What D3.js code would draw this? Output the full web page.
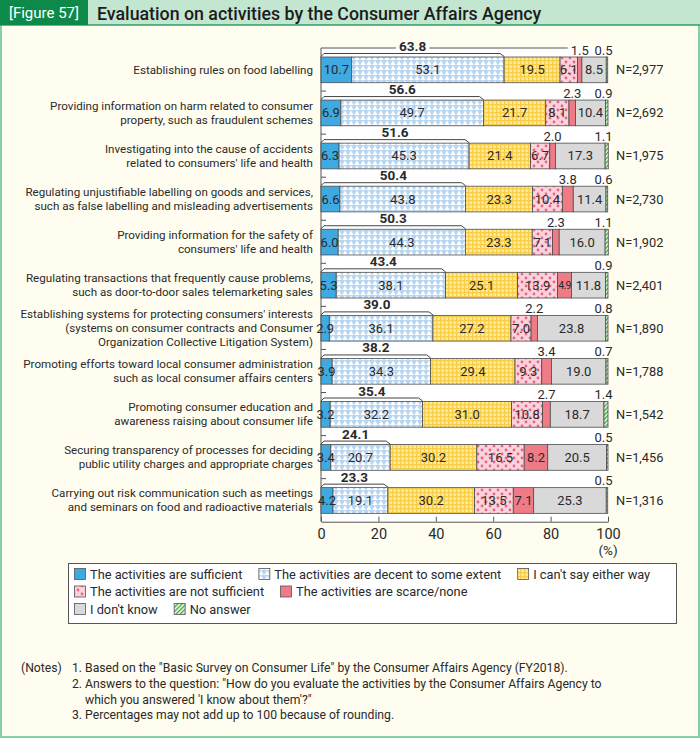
<!DOCTYPE html>
<html><head><meta charset="utf-8">
<script src="https://cdn.jsdelivr.net/npm/d3@7"></script>
<style>
html,body{margin:0;padding:0;background:#fff;}
svg{display:block;}
text{font-family:Roboto,"Noto Sans",sans-serif;fill:#2a2a2a;}
.num{font-family:Roboto,sans-serif;}
</style></head><body>
<svg id="c" width="700" height="738"></svg>
<script>
// ---------------- data ----------------
const categories = [
  ["Establishing rules on food labelling"],
  ["Providing information on harm related to consumer", "property, such as fraudulent schemes"],
  ["Investigating into the cause of accidents", "related to consumers' life and health"],
  ["Regulating unjustifiable labelling on goods and services,", "such as false labelling and misleading advertisements"],
  ["Providing information for the safety of", "consumers' life and health"],
  ["Regulating transactions that frequently cause problems,", "such as door-to-door sales telemarketing sales"],
  ["Establishing systems for protecting consumers' interests", "(systems on consumer contracts and Consumer", "Organization Collective Litigation System)"],
  ["Promoting efforts toward local consumer administration", "such as local consumer affairs centers"],
  ["Promoting consumer education and", "awareness raising about consumer life"],
  ["Securing transparency of processes for deciding", "public utility charges and appropriate charges"],
  ["Carrying out risk communication such as meetings", "and seminars on food and radioactive materials"]
];
const seriesNames = [
  "The activities are sufficient",
  "The activities are decent to some extent",
  "I can't say either way",
  "The activities are not sufficient",
  "The activities are scarce/none",
  "I don't know",
  "No answer"
];
const sufficient    = [10.7, 6.9, 6.3, 6.6, 6.0, 5.3, 2.9, 3.9, 3.2, 3.4, 4.2];
const decent        = [53.1, 49.7, 45.3, 43.8, 44.3, 38.1, 36.1, 34.3, 32.2, 20.7, 19.1];
const cantSay       = [19.5, 21.7, 21.4, 23.3, 23.3, 25.1, 27.2, 29.4, 31.0, 30.2, 30.2];
const notSufficient = [6.1, 8.1, 6.7, 10.4, 7.1, 13.9, 7.0, 9.3, 10.8, 16.5, 13.5];
const scarce        = [1.5, 2.3, 2.0, 3.8, 2.3, 4.9, 2.2, 3.4, 2.7, 8.2, 7.1];
const dontKnow      = [8.5, 10.4, 17.3, 11.4, 16.0, 11.8, 23.8, 19.0, 18.7, 20.5, 25.3];
const noAnswer      = [0.5, 0.9, 1.1, 0.6, 1.1, 0.9, 0.8, 0.7, 1.4, 0.5, 0.5];
const positiveTotal = [63.8, 56.6, 51.6, 50.4, 50.3, 43.4, 39.0, 38.2, 35.4, 24.1, 23.3];
const sampleN       = [2977, 2692, 1975, 2730, 1902, 2401, 1890, 1788, 1542, 1456, 1316];
const xTicks        = [0, 20, 40, 60, 80, 100];
const notes = [
  "1. Based on the \"Basic Survey on Consumer Life\" by the Consumer Affairs Agency (FY2018).",
  "2. Answers to the question: \"How do you evaluate the activities by the Consumer Affairs Agency to",
  "   which you answered 'I know about them'?\"",
  "3. Percentages may not add up to 100 because of rounding."
];

// ---------------- setup ----------------
const svg = d3.select("#c");
const W = 700, H = 738;
const cream = "#fffdef";
const keys = ["s0","s1","s2","s3","s4","s5","s6"];
const seriesValues = [sufficient, decent, cantSay, notSufficient, scarce, dontKnow, noAnswer];
const rows = categories.map((c, i) => {
  const o = {i};
  keys.forEach((k, j) => o[k] = seriesValues[j][i]);
  return o;
});
const stacked = d3.stack().keys(keys)(rows);

// patterns
const defs = svg.append("defs");
let p = defs.append("pattern").attr("id","pDecent").attr("patternUnits","userSpaceOnUse").attr("width",6).attr("height",5);
p.append("rect").attr("width",6).attr("height",5).attr("fill","#b9d6f1");
p.append("path").attr("d","M0.3,5 L3,0.4 L5.7,5 Z").attr("fill","#fff");
p = defs.append("pattern").attr("id","pCant").attr("patternUnits","userSpaceOnUse").attr("width",4).attr("height",4);
p.append("rect").attr("width",4).attr("height",4).attr("fill","#fee9a0");
p.append("rect").attr("width",4).attr("height",1.3).attr("fill","#f8cd4a");
p.append("rect").attr("width",1.3).attr("height",4).attr("fill","#f8cd4a");
p = defs.append("pattern").attr("id","pNot").attr("patternUnits","userSpaceOnUse").attr("width",8).attr("height",8);
p.append("rect").attr("width",8).attr("height",8).attr("fill","#fbd3da");
p.append("circle").attr("cx",2).attr("cy",2).attr("r",1.4).attr("fill","#e9648a");
p.append("circle").attr("cx",6).attr("cy",6).attr("r",1.4).attr("fill","#e9648a");
p = defs.append("pattern").attr("id","pNo").attr("patternUnits","userSpaceOnUse").attr("width",3).attr("height",3).attr("patternTransform","rotate(45)");
p.append("rect").attr("width",3).attr("height",3).attr("fill","#fff");
p.append("rect").attr("width",1.5).attr("height",3).attr("fill","#4aa843");
const fills = ["#3fa9e1","url(#pDecent)","url(#pCant)","url(#pNot)","#ef7b86","#d9d9d9","url(#pNo)"];

// frame
svg.append("rect").attr("x",1).attr("y",1).attr("width",W-2).attr("height",H-2)
  .attr("fill",cream).attr("stroke","#86cfa8").attr("stroke-width",2);
svg.append("rect").attr("x",0).attr("y",0).attr("width",W).attr("height",25).attr("fill","#c3e6d0");
svg.append("line").attr("x1",0).attr("x2",W).attr("y1",25).attr("y2",25).attr("stroke","#2f9e62").attr("stroke-width",1.5);
svg.append("rect").attr("x",0).attr("y",0).attr("width",88).attr("height",25).attr("fill","#0d8a49");
svg.append("text").attr("x",44).attr("y",13).attr("text-anchor","middle").attr("dominant-baseline","central")
  .style("fill","#fff").attr("font-size",15).attr("font-weight",400).text("[Figure 57]");
svg.append("text").attr("x",97).attr("y",13).attr("dominant-baseline","central")
  .style("fill","#1c1c1c").attr("font-size",17.8).attr("font-weight",500)
  .text("Evaluation on activities by the Consumer Affairs Agency");

// scales
const x = d3.scaleLinear().domain([0, 100]).range([321, 608]);
const y = d3.scaleBand().domain(d3.range(categories.length)).range([48, 521.7]);
const bw = y.bandwidth();
const barTop = i => y(i) + bw * 0.209;
const barH = bw * 0.597;
const barMid = i => barTop(i) + barH / 2;

// plot area
svg.append("rect").attr("x",x(0)).attr("y",y.range()[0]).attr("width",x(100)-x(0))
  .attr("height",y.range()[1]-y.range()[0]).attr("fill","#fff");
svg.append("line").attr("x1",x(0)).attr("x2",x(100)).attr("y1",y.range()[0]).attr("y2",y.range()[0])
  .attr("stroke","#555").attr("stroke-width",1);
svg.append("line").attr("x1",x(0)).attr("x2",x(0)).attr("y1",y.range()[0]).attr("y2",y.range()[1])
  .attr("stroke","#555").attr("stroke-width",1);
d3.range(1, categories.length).forEach(i => {
  svg.append("line").attr("x1",x(0)).attr("x2",x(0)+5).attr("y1",y(i)).attr("y2",y(i))
    .attr("stroke","#555").attr("stroke-width",1);
});

// bottom axis
const gx = svg.append("g").attr("transform",`translate(0,${y.range()[1]})`)
  .call(d3.axisBottom(x).tickValues(xTicks).tickSizeInner(-5).tickSizeOuter(0).tickPadding(7));
gx.select(".domain").attr("stroke","#555");
gx.selectAll(".tick line").attr("stroke","#555");
gx.selectAll(".tick text").attr("font-size",14.5).attr("font-family","Roboto,sans-serif").style("fill","#2a2a2a");
svg.append("text").attr("x",x(100)).attr("y",550).attr("text-anchor","middle").attr("dominant-baseline","central")
  .attr("font-size",13.5).text("(%)");

// bars
const gBars = svg.append("g");
stacked.forEach((layer, j) => {
  gBars.selectAll(null).data(layer).enter().append("rect")
    .attr("x", d => x(d[0])).attr("width", d => Math.max(0, x(d[1]) - x(d[0])))
    .attr("y", d => barTop(d.data.i)).attr("height", barH)
    .attr("fill", fills[j]).attr("stroke","#4d4d4d").attr("stroke-width",0.8);
});

// in-bar labels
stacked.forEach((layer, j) => {
  if (j === 6) return;
  layer.forEach(d => {
    const v = d[1] - d[0];
    if (j === 4 && v < 4.5) return;
    const t = svg.append("text").attr("class","num")
      .attr("x", (x(d[0]) + x(d[1])) / 2).attr("y", barMid(d.data.i))
      .attr("text-anchor","middle").attr("dominant-baseline","central")
      .attr("font-size", 13).text(seriesValues[j][d.data.i].toFixed(1));
    if (j === 4 && v < 6) t.attr("font-size", 10.5).attr("letter-spacing", -0.6);
  });
});

// labels above bars
const aboveTexts = [];
stacked[4].forEach(d => {
  const v = scarce[d.data.i];
  if (v >= 4.5) return;
  aboveTexts.push({i: d.data.i, x: (x(d[0]) + x(d[1])) / 2, y: barTop(d.data.i) - 7, t: v.toFixed(1), bold: false});
});
noAnswer.forEach((v, i) => {
  aboveTexts.push({i, x: x(100) - 4.5, y: barTop(i) - 7, t: v.toFixed(1), bold: false});
});
positiveTotal.forEach((v, i) => {
  aboveTexts.push({i, x: (x(0) + x(v)) / 2, y: barTop(i) - 11, t: v.toFixed(1), bold: true});
  const top = barTop(i) - 3.5;
  const pts = [[x(0), barTop(i) - 0.5], [x(0) + 3, top], [x(v) - 4, top], [x(v), barTop(i) - 0.5]];
  svg.append("path").attr("d", d3.line()(pts)).attr("fill","none").attr("stroke","#444").attr("stroke-width",1);
});
aboveTexts.forEach(a => {
  const t = svg.append("text").attr("class","num").attr("x",a.x).attr("y",a.y)
    .attr("text-anchor","middle").attr("dominant-baseline","central")
    .attr("font-size", a.bold ? 13.5 : 13).attr("font-weight", a.bold ? 700 : 400).text(a.t);
  if (a.i === 0) {
    const bb = t.node().getBBox();
    svg.insert("rect", function(){ return t.node(); })
      .attr("x", bb.x - 3).attr("y", y.range()[0] - 1.5).attr("width", bb.width + 6).attr("height", 3)
      .attr("fill", "#fff");
  }
});

// category labels
categories.forEach((lines, i) => {
  const lh = 14;
  const y0 = barMid(i) - (lines.length - 1) * lh / 2;
  lines.forEach((s, k) => {
    svg.append("text").attr("x", 313).attr("y", y0 + k * lh).attr("text-anchor","end")
      .attr("dominant-baseline","central").attr("font-size", 11.6).text(s);
  });
});

// N labels
const fmt = d3.format(",");
sampleN.forEach((n, i) => {
  svg.append("text").attr("x", 616).attr("y", barMid(i)).attr("dominant-baseline","central")
    .attr("font-size", 12.8).text("N=" + fmt(n));
});

// legend
svg.append("rect").attr("x",68.5).attr("y",563.5).attr("width",608).attr("height",60)
  .attr("fill","#fff").attr("stroke","#555").attr("stroke-width",1);
const legendRows = [[0,1,2],[3,4],[5,6]];
legendRows.forEach((r, ri) => {
  let cx = 74;
  const cy = 574 + ri * 17.5;
  r.forEach(j => {
    svg.append("rect").attr("x", cx + 0.5).attr("y", cy - 5.5).attr("width", 11).attr("height", 11)
      .attr("fill", fills[j]).attr("stroke","#555").attr("stroke-width",0.8);
    const t = svg.append("text").attr("x", cx + 16).attr("y", cy).attr("dominant-baseline","central")
      .attr("font-size", 12.8).text(seriesNames[j]);
    cx += 16 + t.node().getComputedTextLength() + 16;
  });
});

// notes
svg.append("text").attr("x", 21).attr("y", 668).attr("dominant-baseline","central").attr("font-size",12.2).text("(Notes)");
notes.forEach((s, k) => {
  const indent = s.startsWith("   ") ? 13 : 0;
  svg.append("text").attr("x", 72 + indent).attr("y", 668 + k * 15.8).attr("dominant-baseline","central")
    .attr("font-size", 12.2).text(s.trim());
});
</script>
</body></html>
